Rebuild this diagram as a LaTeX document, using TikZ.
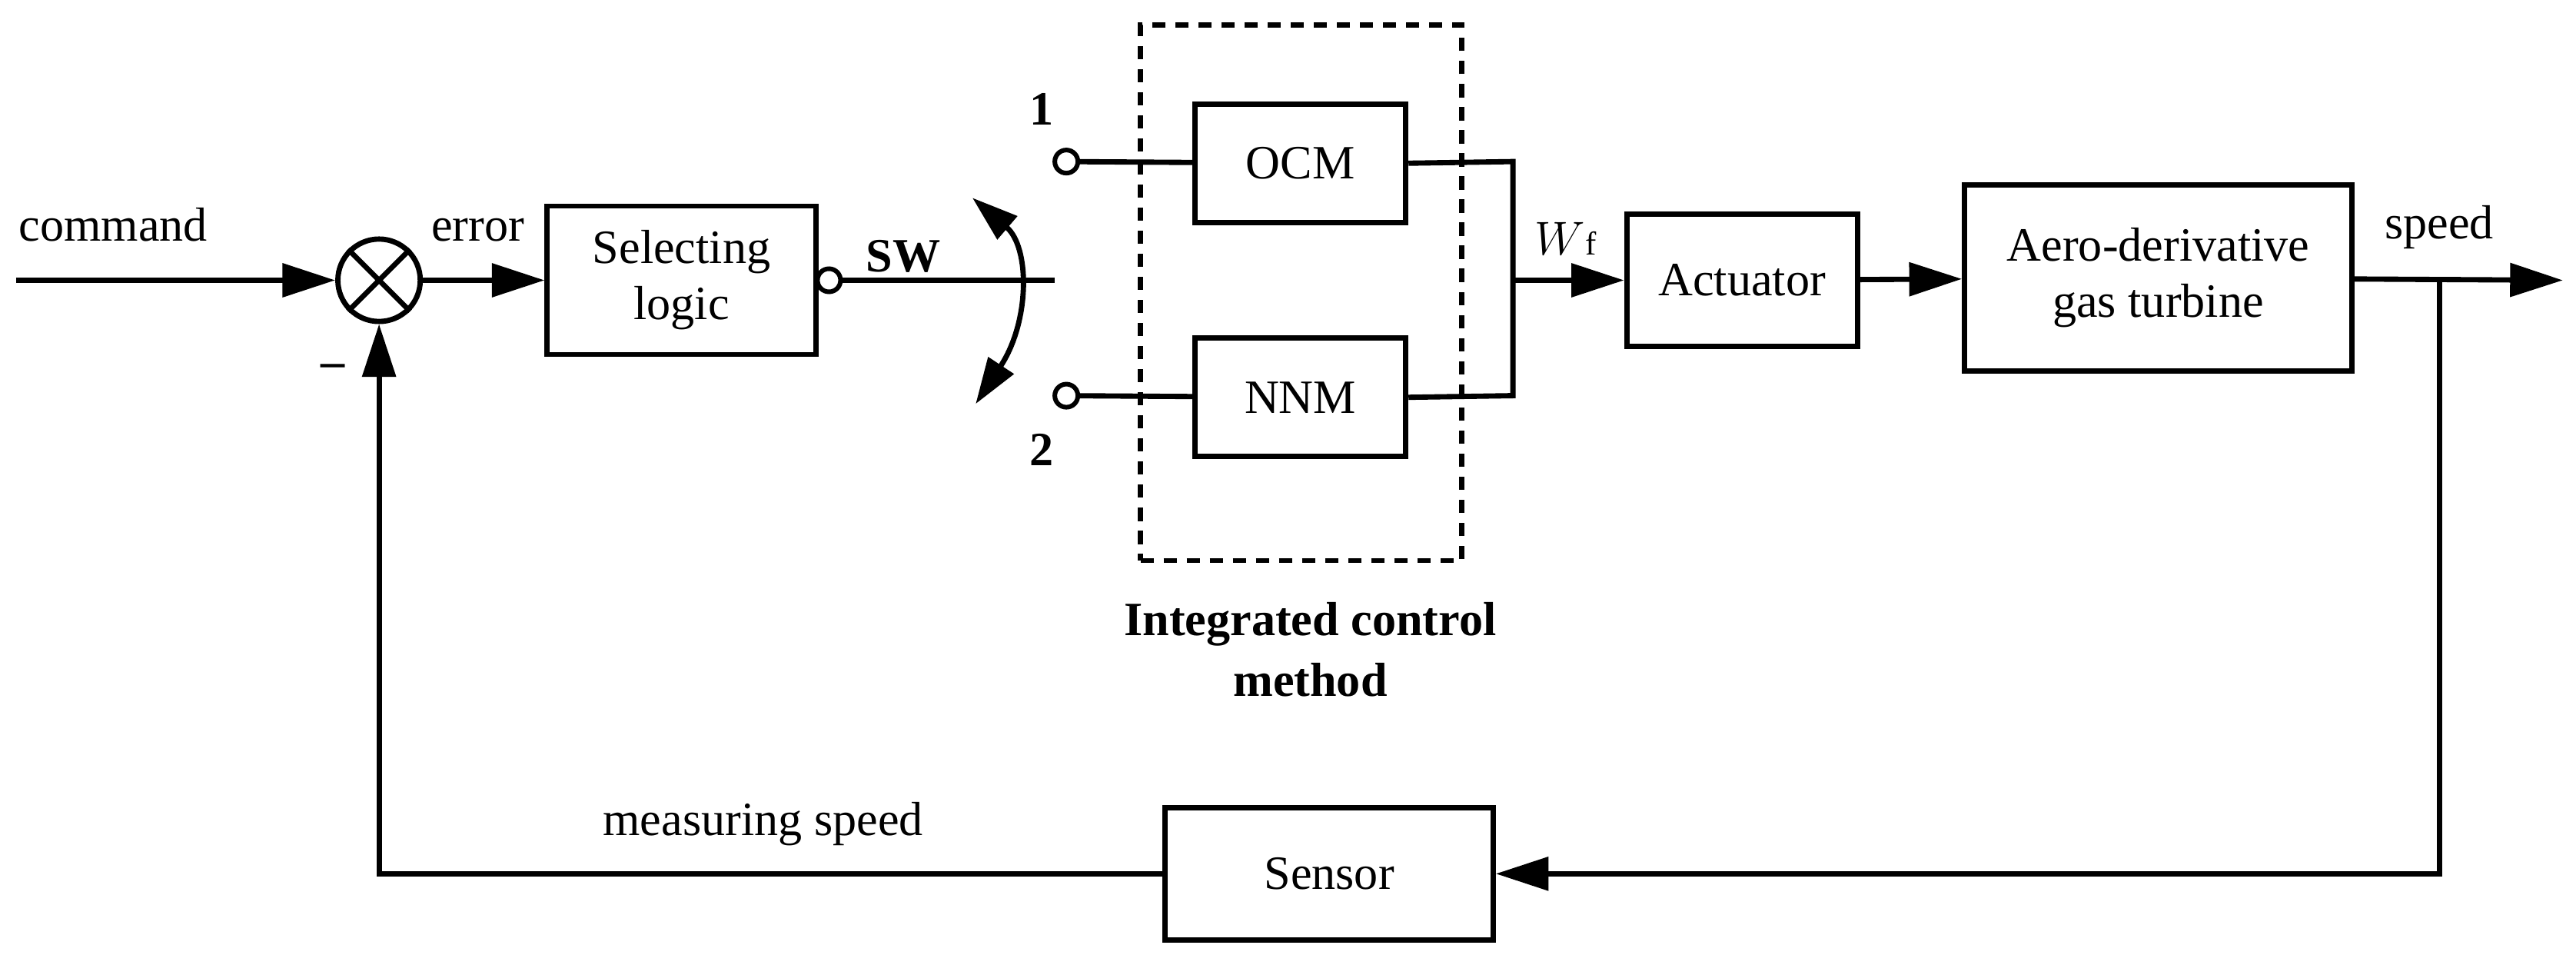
\documentclass[tikz,border=0pt]{standalone}
\usepackage{fontspec}
\setmainfont{Liberation Serif}
\usetikzlibrary{arrows.meta}
\begin{document}
\begin{tikzpicture}[x=0.5pt,y=-0.5pt,line width=1.6pt,
  box/.style={draw,line width=1.6pt,inner sep=0pt,align=center},
  arr/.style={-{Triangle[length=16pt,width=10pt]}},
  lab/.style={inner sep=0pt},
  term/.style={draw,circle,minimum size=7pt,inner sep=0pt,line width=1.4pt,fill=white},
  every node/.append style={font=\fontsize{14.5}{17}\selectfont}]
\useasboundingbox (0,0) rectangle (1563,591);
\coordinate (in) at (10,170);
\node[draw,circle,minimum size=25pt,inner sep=0pt] (sum) at (230,170) {};
\draw (sum.north west) -- (sum.south east) (sum.north east) -- (sum.south west);
\node[lab,anchor=base west] (cmd) at (10,146) {command};
\node[lab,anchor=base] (err) at (290,146) {error};
\node[lab] (minus) at (202,225) {\textbf{--}};
\node[box,minimum width=81.5pt,minimum height=45pt] (sel) at (413.5,170) {Selecting\\logic};
\node[term] (selo) at (503,170) {};
\coordinate (swend) at (640,170);
\node[lab,anchor=base] (sw) at (548,165) {\textbf{SW}};
\node[term] (t1) at (647,98) {};
\node[term] (t2) at (647,240) {};
\node[lab] (n1) at (632,66) {\textbf{1}};
\node[lab] (n2) at (632,273) {\textbf{2}};
\node[box,minimum width=64pt,minimum height=36pt] (ocm) at (789,99) {OCM};
\node[box,minimum width=64pt,minimum height=36pt] (nnm) at (789,241) {NNM};
\node[draw,dashed,line width=1.6pt,dash pattern=on 4pt off 3pt,minimum width=97.5pt,minimum height=162.5pt,inner sep=0pt] (icm) at (789.5,177.5) {};
\node[lab,align=center,font=\fontsize{14.5}{18.5}\selectfont\bfseries] (icml) at (795,394) {Integrated control\\method};
\coordinate (j1) at (918,98);
\coordinate (j2) at (918,240);
\coordinate (jm) at (918,170);
\node[lab] (wf) at (950,145) {$W$\fontsize{10}{12}\selectfont f};
\node[box,minimum width=70pt,minimum height=40pt] (act) at (1057,170) {Actuator};
\node[box,minimum width=117.5pt,minimum height=56.5pt] (gt) at (1309.5,168.5) {Aero-derivative\\gas turbine};
\coordinate (out) at (1555,170);
\coordinate (br) at (1480,170);
\node[lab] (spd) at (1480,138) {speed};
\node[box,minimum width=99.5pt,minimum height=40pt] (sen) at (806.5,530) {Sensor};
\coordinate (brd) at (1480,530);
\coordinate (fbc) at (230,530);
\node[lab] (ms) at (463,500) {measuring speed};
% connectors
\draw[arr] (in) -- (sum);
\draw[arr] (sum) -- (sel);
\draw (sel) -- (selo);
\draw (selo) -- (swend);
\draw[{Triangle[length=14pt,width=9pt]}-{Triangle[length=14pt,width=9pt]}] (590,120) .. controls (625,150) and (625,195) .. (592,245);
\draw (t1) -- (ocm);
\draw (t2) -- (nnm);
\draw (ocm.east) -- (j1) -- (j2) -- (nnm.east);
\draw[arr] (jm) -- (act);
\draw[arr] (act) -- (gt);
\draw[arr] (gt) -- (out);
\draw[arr] (br) -- (brd) -- (sen);
\draw[arr] (sen) -- (fbc) -- (sum);
\end{tikzpicture}
\end{document}
